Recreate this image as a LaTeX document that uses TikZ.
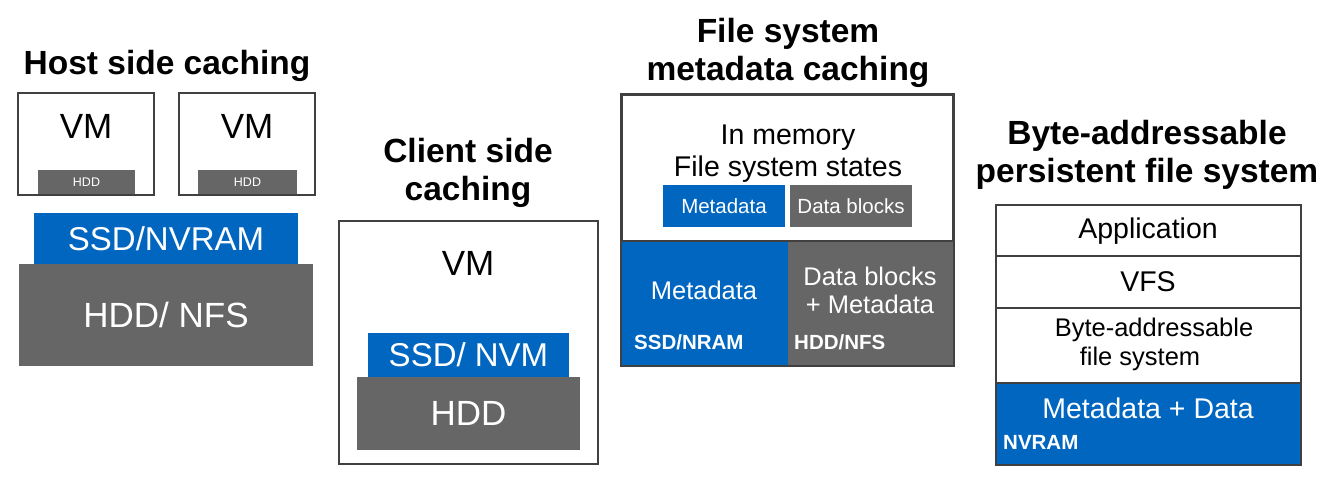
\documentclass[tikz,border=0pt]{standalone}
\usepackage{fontspec}
\setmainfont{Liberation Sans}
\definecolor{cblue}{RGB}{0,102,192}
\definecolor{cgray}{RGB}{102,102,102}
\definecolor{cline}{RGB}{64,64,64}
\tikzset{
	title/.style={font=\bfseries\fontsize{33.5}{38}\selectfont, align=center, inner sep=0pt},
	frame/.style={draw=cline, line width=2pt, fill=white, inner sep=0pt},
	bluebox/.style={fill=cblue, text=white, inner sep=0pt},
	graybox/.style={fill=cgray, text=white, inner sep=0pt},
	bigtxt/.style={font=\fontsize{35}{40}\selectfont, inner sep=0pt},
	midtxt/.style={font=\fontsize{28.5}{32}\selectfont, align=center, inner sep=0pt},
	smalltxt/.style={font=\fontsize{25.5}{28}\selectfont, align=center, inner sep=0pt},
	tag/.style={font=\bfseries\fontsize{20.5}{24}\selectfont, text=white, anchor=west, inner sep=0pt}
}
\begin{document}
\begin{tikzpicture}[x=1pt, y=-1pt]
	\useasboundingbox (0,0) rectangle (1335,484);
	% host side caching
	\node [title] (tHost) at (167,66) {Host side caching};
	\node [frame, minimum width=136, minimum height=102] (vmA) at (86,144) {};
	\node [bigtxt] (vmAtxt) at (86,126) {VM};
	\node [graybox, minimum width=97, minimum height=24, font=\fontsize{12.5}{14}\selectfont] (hddA) at (86.5,182) {HDD};
	\node [frame, minimum width=136, minimum height=102] (vmB) at (247,144) {};
	\node [bigtxt] (vmBtxt) at (247,126) {VM};
	\node [graybox, minimum width=99, minimum height=24, font=\fontsize{12.5}{14}\selectfont] (hddB) at (247.5,182) {HDD};
	\node [bluebox, minimum width=264, minimum height=51, font=\fontsize{33}{38}\selectfont] (ssdH) at (166,238.5) {SSD/NVRAM};
	\node [graybox, minimum width=294, minimum height=102, font=\fontsize{35}{40}\selectfont] (nfsH) at (166,315) {HDD/ NFS};
	% client side caching
	\node [title] (tClient) at (468,173) {Client side\\caching};
	\node [frame, minimum width=259, minimum height=243] (vmC) at (468.5,342.5) {};
	\node [bigtxt] (vmCtxt) at (468,263) {VM};
	\node [bluebox, minimum width=201, minimum height=44, font=\fontsize{33}{38}\selectfont] (ssdC) at (468.5,355) {SSD/ NVM};
	\node [graybox, minimum width=223, minimum height=73, font=\fontsize{35}{40}\selectfont] (hddC) at (468.5,413.5) {HDD};
	% file system metadata caching
	\node [title] (tMeta) at (788,53) {File system\\metadata caching};
	\node [frame, minimum width=331, minimum height=270] (fsBox) at (787.5,230) {};
	\node [bluebox, minimum width=166, minimum height=124] (metaDisk) at (705,303) {};
	\node [graybox, minimum width=165, minimum height=124] (dataDisk) at (870.5,303) {};
	\draw [cline, line width=2pt] (fsBox.north west) rectangle (fsBox.south east);
	\draw [cline, line width=2pt] (622,241) -- (953,241);
	\node [midtxt] (memTxt) at (788,154) {In memory\\File system states};
	\node [bluebox, minimum width=122, minimum height=42, font=\fontsize{20.5}{24}\selectfont] (metaMem) at (724,206) {Metadata};
	\node [graybox, minimum width=122, minimum height=42, font=\fontsize{20.5}{24}\selectfont] (dataMem) at (851,206) {Data blocks};
	\node [smalltxt, text=white] (metaTxt) at (704,290) {Metadata};
	\node [smalltxt, text=white] (dataTxt) at (870,290) {Data blocks\\+ Metadata};
	\node [tag] (ssdTag) at (634,342) {SSD/NRAM};
	\node [tag] (hddTag) at (794,342) {HDD/NFS};
	% byte-addressable persistent file system
	\node [title] (tByte) at (1147,154.5) {Byte-addressable\\persistent file system};
	\node [frame, minimum width=305, minimum height=51] (rowApp) at (1148.5,230.5) {};
	\node [frame, minimum width=305, minimum height=52] (rowVfs) at (1148.5,282) {};
	\node [frame, minimum width=305, minimum height=75] (rowFs) at (1148.5,345.5) {};
	\node [bluebox, draw=cline, line width=2pt, minimum width=305, minimum height=82] (rowNv) at (1148.5,424) {};
	\node [midtxt] (appTxt) at (1148,231) {Application};
	\node [midtxt] (vfsTxt) at (1148,282) {VFS};
	\node [smalltxt] (fsTxtA) at (1154,330) {Byte-addressable};
	\node [smalltxt] (fsTxtB) at (1140,359) {file system};
	\node [midtxt, text=white] (nvTxt) at (1148,408) {Metadata + Data};
	\node [tag] (nvTag) at (1003,442) {NVRAM};
\end{tikzpicture}
\end{document}
